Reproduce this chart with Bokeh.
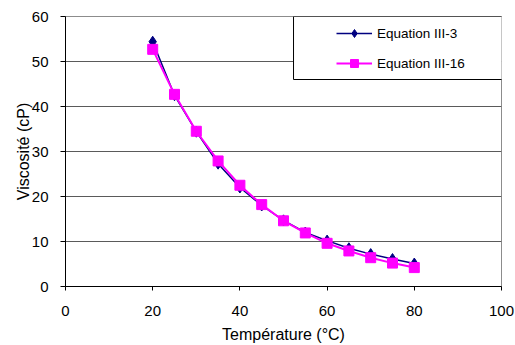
from bokeh.plotting import figure
from bokeh.models import Legend, LegendItem, BoxAnnotation, Range1d, FixedTicker
from bokeh.embed import file_html
from bokeh.resources import INLINE

temperature = [20, 25, 30, 35, 40, 45, 50, 55, 60, 65, 70, 75, 80]
eq_iii_3 = [54.4, 42.5, 34.4, 27.3, 22.0, 18.0, 14.7, 12.0, 10.2, 8.5, 7.2, 6.1, 5.1]
eq_iii_16 = [52.7, 42.7, 34.5, 27.9, 22.5, 18.2, 14.6, 11.9, 9.6, 7.9, 6.4, 5.2, 4.2]
series_names = ["Equation III-3", "Equation III-16"]
x_ticks = [0, 20, 40, 60, 80, 100]
y_ticks = [0, 10, 20, 30, 40, 50, 60]

FONT = "Liberation Sans"

p = figure(width=515, height=345, output_backend="svg", toolbar_location=None,
           x_range=Range1d(0, 100), y_range=Range1d(0, 60),
           min_border_left=65, min_border_right=14, min_border_top=16, min_border_bottom=59)

p.background_fill_color = "white"
p.border_fill_color = "white"
p.outline_line_color = "#8c8c8c"
p.outline_line_width = 1

p.xgrid.grid_line_color = None
p.ygrid.grid_line_color = "#5a5a5a"
p.ygrid.grid_line_width = 1

p.xaxis.ticker = FixedTicker(ticks=x_ticks)
p.yaxis.ticker = FixedTicker(ticks=y_ticks)
for ax in (p.xaxis[0], p.yaxis[0]):
    ax.axis_line_color = "black"
    ax.major_tick_line_color = "black"
    ax.minor_tick_line_color = None
    ax.major_tick_in = 0
    ax.major_label_text_font = FONT
    ax.major_label_text_font_size = "15px"
    ax.major_label_text_color = "black"
    ax.axis_label_text_font = FONT
    ax.axis_label_text_font_size = "16px"
    ax.axis_label_text_font_style = "normal"
    ax.axis_label_text_color = "black"

p.xaxis.major_tick_out = 4
p.xaxis.major_label_standoff = 15
p.xaxis.axis_label_standoff = 7
p.xaxis.axis_label = "Température (°C)"

p.yaxis.major_tick_out = 5
p.yaxis.major_label_standoff = 12
p.yaxis.axis_label_standoff = -3
p.yaxis.axis_label = "Viscosité (cP)"

r1 = p.line(temperature, eq_iii_3, line_color="#000080", line_width=1.5)
m1 = p.scatter(temperature, eq_iii_3, marker="diamond", size=11,
               fill_color="#000080", line_color="#000080")
r2 = p.line(temperature, eq_iii_16, line_color="#FF00FF", line_width=2)
m2 = p.scatter(temperature, eq_iii_16, marker="square", size=10,
               fill_color="#FF00FF", line_color="#FF00FF")

box = BoxAnnotation(left=52.3, right=101.8, bottom=46.0, top=60,
                    fill_color="white", fill_alpha=1.0,
                    line_color="black", line_width=1, line_alpha=1.0)
p.add_layout(box)

legend = Legend(items=[LegendItem(label=series_names[0], renderers=[r1, m1]),
                       LegendItem(label=series_names[1], renderers=[r2, m2])],
                location=(261, 203), glyph_width=36, glyph_height=20,
                label_height=20, spacing=10, padding=10, label_standoff=5,
                label_text_font=FONT, label_text_font_size="13.5px",
                label_text_color="black",
                border_line_alpha=0, background_fill_alpha=0)
p.add_layout(legend)

open("out.html", "w").write(file_html(p, INLINE))
